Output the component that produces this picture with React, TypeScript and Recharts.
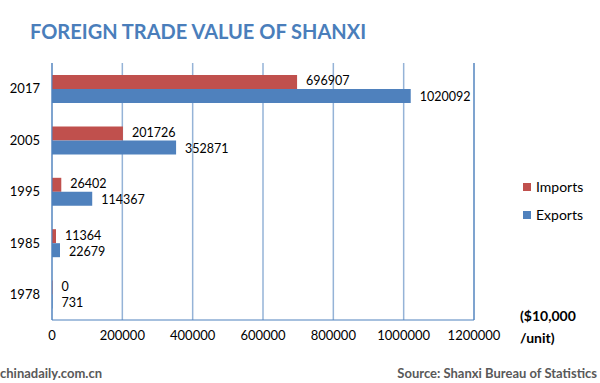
import { Bar, BarChart, CartesianGrid, LabelList, ReferenceLine, XAxis, YAxis } from 'recharts';

const years = ['2017', '2005', '1995', '1985', '1978'];
const imports = [696907, 201726, 26402, 11364, 0];
const exports = [1020092, 352871, 114367, 22679, 731];
const xTicks = [0, 200000, 400000, 600000, 800000, 1000000, 1200000];

const data = years.map((y, i) => ({ year: y, Imports: imports[i], Exports: exports[i] }));

const font = 'Lato, "Open Sans", sans-serif';

const legendItems = [
    { name: 'Imports', color: '#c0504d', top: 178 },
    { name: 'Exports', color: '#4f81bd', top: 206 },
];

export default function App() {
    return (
        <div style={{ position: 'absolute', left: 0, top: 0, width: 600, height: 383, background: '#fff', fontFamily: font }}>
            <div style={{ position: 'absolute', left: 30, top: 19, fontSize: 20, fontWeight: 700, color: '#4a7ebb', whiteSpace: 'nowrap' }}>
                FOREIGN TRADE VALUE OF SHANXI
            </div>
            <BarChart
                width={600}
                height={383}
                data={data}
                layout="vertical"
                margin={{ top: 63, right: 126, left: 8, bottom: 33 }}
                barGap={0}
                barSize={14}
            >
                <CartesianGrid horizontal={false} stroke="#95b3d7" strokeWidth={1.5} />
                <XAxis
                    type="number"
                    domain={[0, 1200000]}
                    ticks={xTicks}
                    tickLine={false}
                    axisLine={{ stroke: '#4f81bd' }}
                    tick={{ fill: '#000', fontSize: 13 }}
                    tickMargin={5}
                    height={30}
                />
                <YAxis
                    type="category"
                    dataKey="year"
                    width={44}
                    tickLine={false}
                    axisLine={{ stroke: '#4f81bd' }}
                    tick={{ fill: '#000', fontSize: 13 }}
                    tickMargin={6}
                />
                <ReferenceLine x={1200000} stroke="#4f81bd" />
                <Bar dataKey="Imports" fill="#c0504d" minPointSize={0.5} isAnimationActive={false}>
                    <LabelList dataKey="Imports" position="right" offset={9} dy={-1} fill="#000" fontSize={12.5} />
                </Bar>
                <Bar dataKey="Exports" fill="#4f81bd" minPointSize={0.5} isAnimationActive={false}>
                    <LabelList dataKey="Exports" position="right" offset={9} dy={1} fill="#000" fontSize={12.5} />
                </Bar>
            </BarChart>
            {legendItems.map((it) => (
                <div key={it.name} style={{ position: 'absolute', left: 523, top: it.top, fontSize: 14, color: '#000', display: 'flex', alignItems: 'center' }}>
                    <span style={{ display: 'inline-block', width: 8, height: 8, background: it.color, marginRight: 5 }} />
                    {it.name}
                </div>
            ))}
            <div style={{ position: 'absolute', left: 520, top: 305, fontSize: 14, fontWeight: 700, lineHeight: '22px', color: '#000' }}>
                ($10,000
                <br />
                /unit)
            </div>
            <div style={{ position: 'absolute', left: 0, top: 365, fontSize: 13, fontWeight: 700, color: '#595959' }}>chinadaily.com.cn</div>
            <div style={{ position: 'absolute', right: 3, top: 365, fontSize: 13, fontWeight: 700, color: '#595959' }}>
                Source: Shanxi Bureau of Statistics
            </div>
        </div>
    );
}
